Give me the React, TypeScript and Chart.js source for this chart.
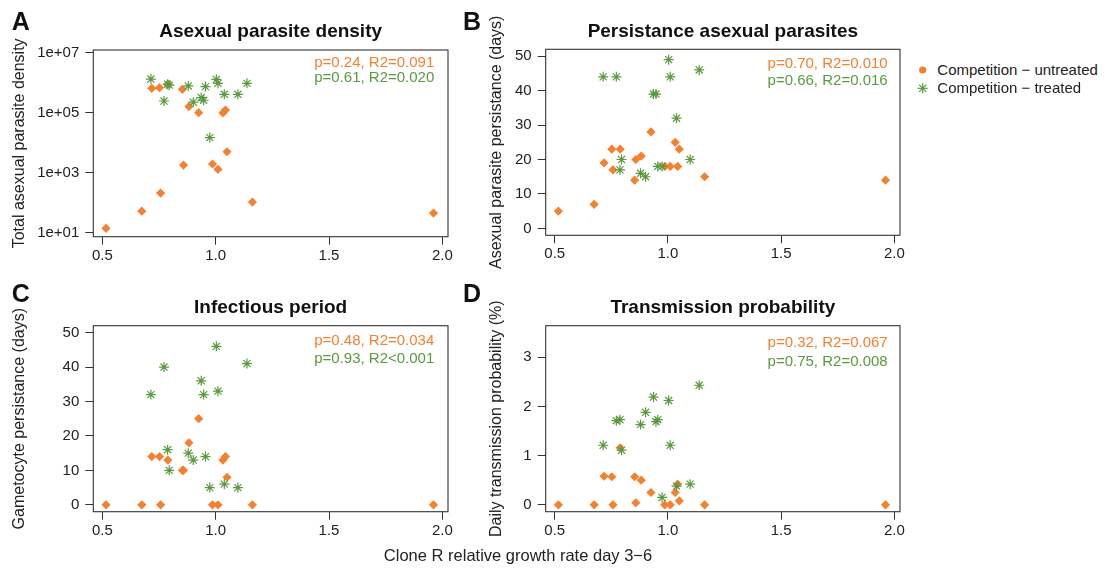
import React, { useEffect, useRef } from "react";
import { Chart, registerables } from "chart.js";
Chart.register(...registerables);

const ORANGE = "#F4812F";
const GREEN = "#5A9A3E";
const INK = "#222222";
const FONT = "'Liberation Sans', Arial, Helvetica, sans-serif";

// Clone R relative growth rate (day 3-6) per infection
const untreatedX = [0.516, 0.674, 0.718, 0.752, 0.757, 0.789, 0.853, 0.858, 0.882, 0.925, 0.986, 1.01, 1.032, 1.043, 1.05, 1.162, 1.961];
const treatedX = [0.714, 0.772, 0.788, 0.795, 0.879, 0.901, 0.936, 0.947, 0.955, 0.974, 1.003, 1.01, 1.038, 1.098, 1.138];

// A: Total asexual parasite density
const densityUntreated = [14, 52, 6.5e5, 6.8e5, 210, 8.9e5, 6.0e5, 1800, 1.6e5, 1.0e5, 1950, 1300, 9.8e4, 1.23e5, 5000, 105, 45];
const densityTreated = [1.32e6, 2.45e5, 8.9e5, 8.3e5, 7.8e5, 2.24e5, 3.2e5, 2.6e5, 7.4e5, 1.48e4, 1.29e6, 9.5e5, 4.1e5, 4.1e5, 9.5e5];

// B: Asexual parasite persistance (days)
const asexPersistUntreated = [5, 7, 19, 23, 17, 23, 14, 20, 21, 28, 18, 18, 25, 18, 23, 15, 14];
const asexPersistTreated = [44, 44, 17, 20, 16, 15, 39, 39, 18, 18, 49, 44, 32, 20, 46];

// C: Gametocyte persistance (days)
const gamPersistUntreated = [0, 0, 14, 14, 0, 13, 10, 10, 18, 25, 0, 0, 13, 14, 8, 0, 0];
const gamPersistTreated = [32, 40, 16, 10, 15, 13, 36, 32, 14, 5, 46, 33, 6, 5, 41];

// D: Daily transmission probability (%)
const transUntreated = [0, 0, 0.58, 0.57, 0, 1.16, 0.57, 0.04, 0.5, 0.25, 0, 0, 0.25, 0.42, 0.08, 0, 0];
const transTreated = [1.21, 1.71, 1.73, 1.11, 1.63, 1.88, 2.19, 1.69, 1.73, 0.15, 2.12, 1.21, 0.38, 0.42, 2.43];

const xTicks = [0.5, 1.0, 1.5, 2.0];
const xTickLabels = ["0.5", "1.0", "1.5", "2.0"];
const densityTicks = [1e1, 1e3, 1e5, 1e7];
const densityTickLabels = ["1e+01", "1e+03", "1e+05", "1e+07"];
const daysTicks = [0, 10, 20, 30, 40, 50];
const probTicks = [0, 1, 2, 3];

const titles = ["Asexual parasite density", "Persistance asexual parasites", "Infectious period", "Transmission probability"];
const yTitles = ["Total asexual parasite density", "Asexual parasite persistance (days)", "Gametocyte persistance (days)", "Daily transmission probability (%)"];
const statsUntreated = ["p=0.24, R2=0.091", "p=0.70, R2=0.010", "p=0.48, R2=0.034", "p=0.32, R2=0.067"];
const statsTreated = ["p=0.61, R2=0.020", "p=0.66, R2=0.016", "p=0.93, R2<0.001", "p=0.75, R2=0.008"];
const legendLabels = ["Competition \u2212 untreated", "Competition \u2212 treated"];
const xTitle = "Clone R relative growth rate day 3\u22126";

const toPts = (xs: number[], ys: number[]) => xs.map((x, i) => ({ x, y: ys[i] }));

type PanelDef = {
  left: number; top: number; w: number; h: number;
  pad: { left: number; top: number; right: number; bottom: number };
  yW: number; xH: number; yTitlePad: number;
  logY: boolean; yMin: number; yMax: number; yTicks: number[]; yLabels: string[];
  untreated: number[]; treated: number[]; yTitle: string;
};

const framePlugin = {
  id: "frame",
  afterDraw(chart: any) {
    const { ctx, chartArea } = chart;
    const { left, top, right, bottom } = chartArea;
    ctx.save();
    ctx.strokeStyle = "#333";
    ctx.lineWidth = 1.1;
    ctx.strokeRect(left, top, right - left, bottom - top);
    ctx.restore();
  },
};

function Panel({ def }: { def: PanelDef }) {
  const ref = useRef<HTMLCanvasElement>(null);
  useEffect(() => {
    const tickFont = { family: FONT, size: 15 };
    const chart = new Chart(ref.current!, {
      type: "scatter",
      data: {
        datasets: [
          {
            label: "treated",
            data: toPts(treatedX, def.treated),
            pointStyle: "star",
            radius: 5,
            borderColor: GREEN,
            backgroundColor: GREEN,
            borderWidth: 1.2,
          },
          {
            label: "untreated",
            data: toPts(untreatedX, def.untreated),
            pointStyle: "rectRot",
            radius: 4.6,
            borderWidth: 0,
            backgroundColor: ORANGE,
            borderColor: ORANGE,
          },
        ],
      },
      options: {
        responsive: false,
        animation: false,
        devicePixelRatio: window.devicePixelRatio || 1,
        layout: { padding: def.pad },
        plugins: { legend: { display: false }, tooltip: { enabled: false }, title: { display: false } },
        scales: {
          x: {
            type: "linear",
            min: 0.46,
            max: 2.025,
            afterBuildTicks: (s: any) => { s.ticks = xTicks.map((v) => ({ value: v })); },
            afterFit: (s: any) => { s.height = def.xH; },
            ticks: {
              autoSkip: false, maxRotation: 0, padding: 2, color: INK, font: tickFont,
              callback: (v: any) => xTickLabels[xTicks.indexOf(Number(v))] ?? "",
            },
            grid: { display: true, drawOnChartArea: false, drawTicks: true, tickLength: 8, color: "#333", lineWidth: 1 },
            border: { display: false },
          },
          y: {
            type: def.logY ? "logarithmic" : "linear",
            min: def.yMin,
            max: def.yMax,
            afterBuildTicks: (s: any) => { s.ticks = def.yTicks.map((v) => ({ value: v })); },
            afterFit: (s: any) => { s.width = def.yW; },
            ticks: {
              autoSkip: false, padding: 6, color: INK, font: tickFont,
              callback: (v: any) => {
                const i = def.yTicks.findIndex((t) => Math.abs(t - Number(v)) < 1e-9 * Math.max(1, Math.abs(t)));
                return i >= 0 ? def.yLabels[i] : "";
              },
            },
            grid: { display: true, drawOnChartArea: false, drawTicks: true, tickLength: 8, color: "#333", lineWidth: 1 },
            border: { display: false },
            title: {
              display: true, text: def.yTitle, color: INK,
              font: { family: FONT, size: 16 }, padding: { top: def.yTitlePad, bottom: 0 },
            },
          },
        },
      },
      plugins: [framePlugin],
    } as any);
    return () => chart.destroy();
  }, []);
  return (
    <canvas
      ref={ref}
      width={def.w}
      height={def.h}
      style={{ position: "absolute", left: def.left, top: def.top, width: def.w, height: def.h }}
    />
  );
}

const panels: PanelDef[] = [
  {
    left: 0, top: 0, w: 470, h: 280, pad: { left: 0, top: 50, right: 22, bottom: 0 }, yW: 93.3, xH: 43.3, yTitlePad: 10,
    logY: true, yMin: 7.36, yMax: 1.23e7, yTicks: densityTicks, yLabels: densityTickLabels,
    untreated: densityUntreated, treated: densityTreated, yTitle: yTitles[0],
  },
  {
    left: 470, top: 0, w: 450, h: 280, pad: { left: 0, top: 49.3, right: 20, bottom: 0 }, yW: 75.7, xH: 44.7, yTitlePad: 17.4,
    logY: false, yMin: -2, yMax: 52, yTicks: daysTicks, yLabels: daysTicks.map(String),
    untreated: asexPersistUntreated, treated: asexPersistTreated, yTitle: yTitles[1],
  },
  {
    left: 0, top: 280, w: 470, h: 291, pad: { left: 0, top: 45.7, right: 22, bottom: 0 }, yW: 93.3, xH: 59.3, yTitlePad: 10,
    logY: false, yMin: -2, yMax: 52, yTicks: daysTicks, yLabels: daysTicks.map(String),
    untreated: gamPersistUntreated, treated: gamPersistTreated, yTitle: yTitles[2],
  },
  {
    left: 470, top: 280, w: 450, h: 291, pad: { left: 0, top: 45.7, right: 20, bottom: 0 }, yW: 75.7, xH: 59.3, yTitlePad: 17.4,
    logY: false, yMin: -0.14, yMax: 3.64, yTicks: probTicks, yLabels: probTicks.map(String),
    untreated: transUntreated, treated: transTreated, yTitle: yTitles[3],
  },
];

// overlay text placement (page pixels)
const boxes = [
  { l: 93.3, r: 448, titleTop: 21.2, letterL: 11.7, letterTop: 8.9, statR: 434.3, statTops: [54, 69] },
  { l: 545.7, r: 900, titleTop: 21.2, letterL: 463, letterTop: 8.9, statR: 887.7, statTops: [55, 71.6] },
  { l: 93.3, r: 448, titleTop: 296.9, letterL: 11.7, letterTop: 280.9, statR: 434.3, statTops: [331.6, 349.6] },
  { l: 545.7, r: 900, titleTop: 296.9, letterL: 463, letterTop: 280.9, statR: 887.7, statTops: [334, 353.3] },
];
const letters = ["A", "B", "C", "D"];

const abs = (s: React.CSSProperties): React.CSSProperties => ({ position: "absolute", whiteSpace: "nowrap", lineHeight: 1, fontFamily: FONT, margin: 0, ...s });

export default function App() {
  return (
    <div style={{ position: "absolute", left: 0, top: 0, width: 1105, height: 571, background: "#fff", overflow: "hidden" }}>
      {panels.map((p, i) => (
        <Panel key={i} def={p} />
      ))}
      {boxes.map((b, i) => (
        <React.Fragment key={i}>
          <div style={abs({ left: b.letterL, top: b.letterTop, fontSize: 25, fontWeight: "bold", color: "#111" })}>{letters[i]}</div>
          <div style={abs({ left: b.l, width: b.r - b.l, top: b.titleTop, fontSize: 19, fontWeight: "bold", color: "#111", textAlign: "center" })}>{titles[i]}</div>
          <div style={abs({ left: b.statR - 300, width: 300, top: b.statTops[0], fontSize: 15, color: ORANGE, textAlign: "right" })}>{statsUntreated[i]}</div>
          <div style={abs({ left: b.statR - 300, width: 300, top: b.statTops[1], fontSize: 15, color: GREEN, textAlign: "right" })}>{statsTreated[i]}</div>
        </React.Fragment>
      ))}
      <svg style={{ position: "absolute", left: 912, top: 60 }} width={22} height={40}>
        <circle cx={10.7} cy={10} r={3.6} fill={ORANGE} />
        <g stroke={GREEN} strokeWidth={1.2}>
          <line x1={10.7 - 5} y1={28.3} x2={10.7 + 5} y2={28.3} />
          <line x1={10.7} y1={23.3} x2={10.7} y2={33.3} />
          <line x1={10.7 - 3.6} y1={24.7} x2={10.7 + 3.6} y2={31.9} />
          <line x1={10.7 - 3.6} y1={31.9} x2={10.7 + 3.6} y2={24.7} />
        </g>
      </svg>
      <div style={abs({ left: 937.3, top: 62.3, fontSize: 15, color: INK })}>{legendLabels[0]}</div>
      <div style={abs({ left: 937.3, top: 80, fontSize: 15, color: INK })}>{legendLabels[1]}</div>
      <div style={abs({ left: 318, width: 400, top: 547, fontSize: 16.5, color: INK, textAlign: "center" })}>{xTitle}</div>
    </div>
  );
}
